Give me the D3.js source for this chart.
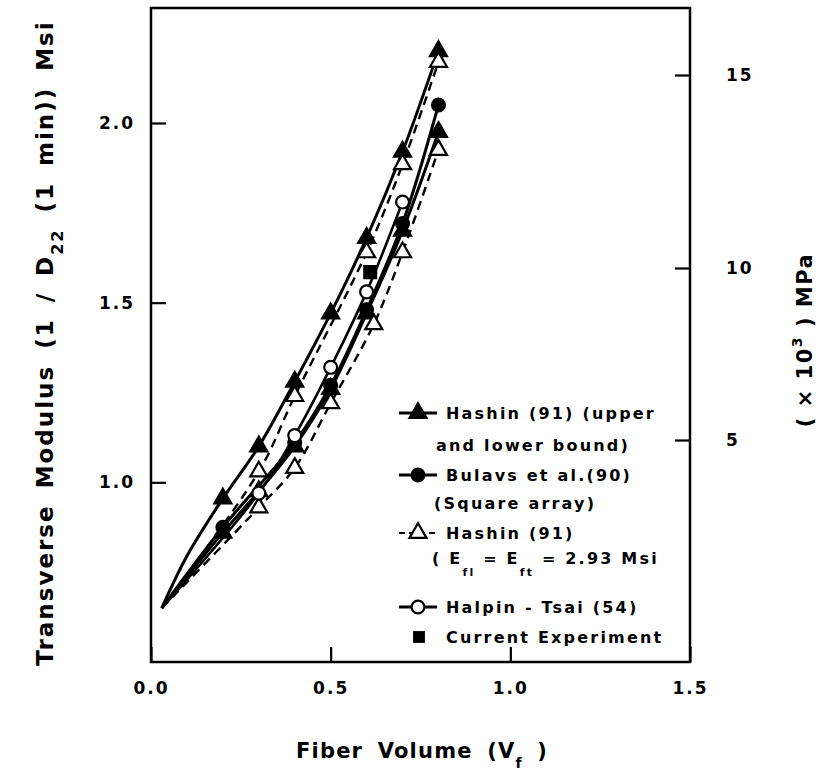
<!DOCTYPE html>
<html><head><meta charset="utf-8">
<script src="https://cdn.jsdelivr.net/npm/d3@7"></script>
<style>body{margin:0;background:#fff}</style></head>
<body><svg id="c" width="826" height="782"></svg>
<script>
// ---- data ----
const xTickValues = [0.0, 0.5, 1.0, 1.5];
const xTickLabels = ["0.0", "0.5", "1.0", "1.5"];
const yTickValues = [1.0, 1.5, 2.0];
const yTickLabels = ["1.0", "1.5", "2.0"];
const rightTickValues = [5, 10, 15];
const rightTickLabels = ["5", "10", "15"];

const hashinUpper = [[0.03,0.65],[0.1,0.795],[0.2,0.955],[0.3,1.10],[0.4,1.28],[0.5,1.47],[0.6,1.68],[0.7,1.92],[0.8,2.20]];
const hashinLower = [[0.03,0.65],[0.2,0.86],[0.3,0.975],[0.4,1.10],[0.5,1.26],[0.6,1.47],[0.7,1.70],[0.8,1.975]];
const bulavs = [[0.03,0.65],[0.2,0.875],[0.4,1.11],[0.5,1.27],[0.6,1.48],[0.7,1.72],[0.8,2.05]];
const hashinFiberUpper = [[0.03,0.65],[0.3,1.03],[0.4,1.24],[0.6,1.64],[0.7,1.885],[0.8,2.17]];
const hashinFiberLower = [[0.03,0.65],[0.3,0.93],[0.4,1.04],[0.5,1.22],[0.62,1.44],[0.7,1.64],[0.8,1.925]];
const halpinTsai = [[0.03,0.65],[0.3,0.97],[0.4,1.13],[0.5,1.32],[0.6,1.53],[0.7,1.78]];
const experiment = [[0.61,1.585]];
// markers on the upper Hashin curve start at Vf = 0.2
const hashinUpperMarked = hashinUpper.slice(2);

const legendLabels = ["Hashin (91) (upper", "and lower bound)", "Bulavs et al.(90)", "(Square array)", "Hashin (91)", "Halpin - Tsai (54)", "Current Experiment"];

// ---- drawing ----
const svg = d3.select('#c');
const FONT = "'DejaVu Sans', sans-serif";
const L = 151, R = 690, T = 8, B = 662;
const x = d3.scaleLinear().domain([0, 1.5]).range([L, R]);
const y = d3.scaleLinear().domain([0.5, 2.32]).range([B, T]);
const yR = d3.scaleLinear().domain([5, 10, 15]).range([440, 268, 75]);

// frame
svg.append('rect').attr('x', L).attr('y', T).attr('width', R - L).attr('height', B - T)
  .attr('fill', 'none').attr('stroke', '#000').attr('stroke-width', 2.5);

// axes
const gx = svg.append('g').attr('transform', `translate(0,${B})`)
  .call(d3.axisBottom(x).tickValues(xTickValues).tickSize(-15).tickPadding(20)
    .tickFormat((d, i) => xTickLabels[i]));
const gy = svg.append('g').attr('transform', `translate(${L},0)`)
  .call(d3.axisLeft(y).tickValues(yTickValues).tickSize(-15).tickPadding(16)
    .tickFormat((d, i) => yTickLabels[i]));
const gr = svg.append('g').attr('transform', `translate(${R},0)`)
  .call(d3.axisRight(yR).tickValues(rightTickValues).tickSize(-15).tickPadding(36)
    .tickFormat((d, i) => rightTickLabels[i]));
[gx, gy, gr].forEach(g => {
  g.select('.domain').remove();
  g.selectAll('.tick line').attr('stroke', '#000').attr('stroke-width', 2.2);
  g.selectAll('.tick text').attr('font-family', FONT).attr('font-size', 17).attr('font-weight', 'bold')
    .attr('letter-spacing', 2).attr('fill', '#000');
});
gr.selectAll('.tick text').attr('text-anchor', 'start');

// series
const line = d3.line().x(d => x(d[0])).y(d => y(d[1])).curve(d3.curveCatmullRom.alpha(0.5));
const series = [
  {data: hashinUpper, dash: null, w: 3},
  {data: hashinLower, dash: null, w: 3},
  {data: bulavs, dash: null, w: 3},
  {data: halpinTsai, dash: null, w: 2.6},
  {data: hashinFiberUpper, dash: '9,6', w: 2.4},
  {data: hashinFiberLower, dash: '9,6', w: 2.4}
];
series.forEach(s => {
  svg.append('path').attr('d', line(s.data)).attr('fill', 'none').attr('stroke', '#000')
    .attr('stroke-width', s.w).attr('stroke-dasharray', s.dash);
});

const tri = d3.symbol().type(d3.symbolTriangle).size(125);
const circ = d3.symbol().type(d3.symbolCircle).size(130);
const sq = d3.symbol().type(d3.symbolSquare).size(140);
function markers(data, sym, fill) {
  svg.append('g').selectAll('path').data(data).join('path')
    .attr('d', sym).attr('transform', d => `translate(${x(d[0])},${y(d[1])})`)
    .attr('fill', fill).attr('stroke', '#000').attr('stroke-width', 2.2);
}
markers(hashinLower.slice(1), tri, '#000');
markers(bulavs.slice(1), circ, '#000');
markers(hashinUpperMarked, tri, '#000');
markers(hashinFiberUpper.slice(1), tri, '#fff');
markers(hashinFiberLower.slice(1), tri, '#fff');
markers(halpinTsai.slice(1), circ, '#fff');
markers(experiment, sq, '#000');

// legend
const lg = svg.append('g').attr('font-family', FONT).attr('font-size', 16).attr('font-weight', 'bold')
  .attr('letter-spacing', 2.2);
function sample(cy, sym, fill, dash) {
  lg.append('line').attr('x1', 399).attr('x2', 437).attr('y1', cy).attr('y2', cy)
    .attr('stroke', '#000').attr('stroke-width', dash ? 2.2 : 3).attr('stroke-dasharray', dash);
  lg.append('path').attr('d', sym).attr('transform', `translate(418,${cy})`)
    .attr('fill', fill).attr('stroke', '#000').attr('stroke-width', 2.2);
}
function txt(tx, ty, s) { return lg.append('text').attr('x', tx).attr('y', ty).text(s); }
sample(413, tri, '#000');
txt(446, 419, legendLabels[0]);
txt(436, 451, legendLabels[1]);
sample(475, circ, '#000');
txt(446, 481, legendLabels[2]);
txt(434, 509, legendLabels[3]);
sample(533, tri, '#fff', '6,4');
txt(446, 539, legendLabels[4]);
const e = lg.append('text').attr('x', 432).attr('y', 564);
e.append('tspan').text('( E');
e.append('tspan').attr('font-size', 11).attr('dy', 12).text('fl');
e.append('tspan').attr('dy', -12).text(' = E');
e.append('tspan').attr('font-size', 11).attr('dy', 12).text('ft');
e.append('tspan').attr('dy', -12).text(' = 2.93 Msi');
sample(607, circ, '#fff');
txt(446, 613, legendLabels[5]);
lg.append('path').attr('d', sq).attr('transform', 'translate(419,637)').attr('fill', '#000');
txt(446, 643, legendLabels[6]);

// axis titles
const xt = svg.append('text').attr('x', 422).attr('y', 758).attr('text-anchor', 'middle')
  .attr('font-family', FONT).attr('font-size', 21).attr('font-weight', 'bold')
  .attr('letter-spacing', 1.2).attr('word-spacing', 6);
xt.append('tspan').text('Fiber Volume (V');
xt.append('tspan').attr('font-size', 14).attr('dy', 10).text('f');
xt.append('tspan').attr('dy', -10).text(' )');

const yt = svg.append('text').attr('transform', 'translate(53,343) rotate(-90)').attr('text-anchor', 'middle')
  .attr('font-family', FONT).attr('font-size', 23).attr('font-weight', 'bold')
  .attr('letter-spacing', 2).attr('word-spacing', 6);
yt.append('tspan').text('Transverse Modulus (1 / D');
yt.append('tspan').attr('font-size', 16).attr('dy', 10).text('22');
yt.append('tspan').attr('dy', -10).text(' (1 min)) Msi');

const rt = svg.append('text').attr('transform', 'translate(812,340) rotate(-90)').attr('text-anchor', 'middle')
  .attr('font-family', FONT).attr('font-size', 21).attr('font-weight', 'bold').attr('letter-spacing', 1.5);
rt.append('tspan').text('( × 10');
rt.append('tspan').attr('font-size', 14).attr('dy', -10).text('3');
rt.append('tspan').attr('dy', 10).text(' ) MPa');
</script>
</body></html>
